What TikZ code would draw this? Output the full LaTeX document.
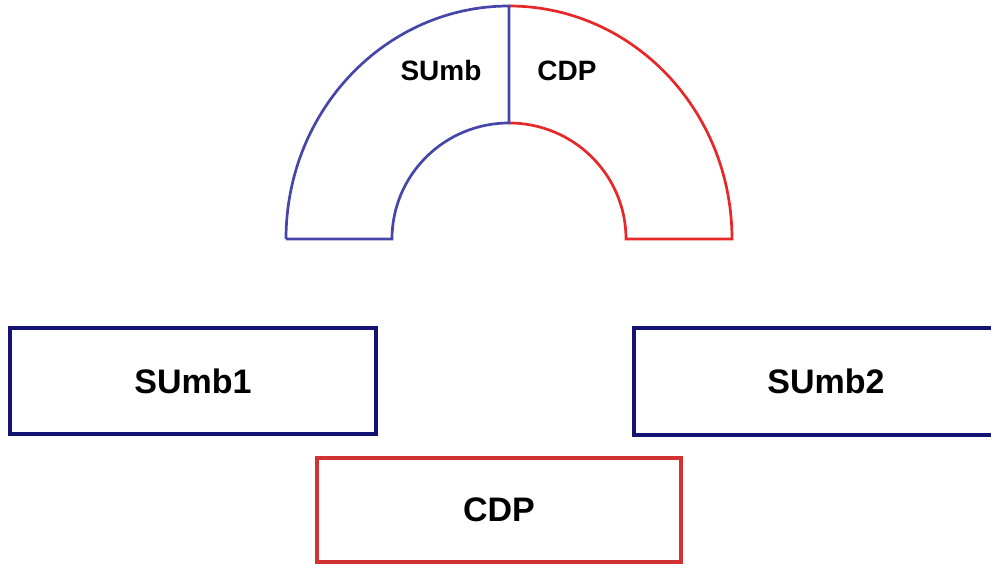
\documentclass[tikz,border=0pt]{standalone}
\usepackage{fontspec}
\setmainfont{Liberation Sans}
\definecolor{navyb}{RGB}{20,20,115}
\definecolor{boxred}{RGB}{210,50,50}
\definecolor{arcblue}{RGB}{70,70,170}
\definecolor{arcred}{RGB}{232,40,40}
\tikzset{
  unitbox/.style={draw=navyb, line width=3.3pt, rectangle, inner sep=0pt, font=\fontsize{34}{40}\selectfont\bfseries},
  cdpbox/.style={draw=boxred, line width=3.3pt, rectangle, inner sep=0pt, font=\fontsize{34}{40}\selectfont\bfseries},
  arclabel/.style={inner sep=0pt, font=\fontsize{28}{32}\selectfont\bfseries},
  bluearc/.style={draw=arcblue, line width=2.7pt, line join=miter},
  redarc/.style={draw=arcred, line width=2.7pt, line join=miter}
}
\begin{document}
\begin{tikzpicture}[x=1pt,y=1pt]
\useasboundingbox (0,0) rectangle (991,569);
\clip (0,0) rectangle (991,569);
% semicircular ring
\draw[redarc] (509,563) arc[start angle=90,end angle=0,x radius=223,y radius=233]
  -- (626,330) arc[start angle=0,end angle=90,x radius=117,y radius=116];
\draw[bluearc] (286,330) -- (392,330)
  arc[start angle=180,end angle=90,x radius=117,y radius=116]
  -- (509,563) arc[start angle=90,end angle=180,x radius=223,y radius=233];
\node[arclabel] (lsumb) at (441,498) {SUmb};
\node[arclabel] (lcdp) at (567,498) {CDP};
% boxes
\node[unitbox, minimum width=366pt, minimum height=106pt] (sumb1) at (193,188) {SUmb1};
\node[unitbox, minimum width=384pt, minimum height=107pt] (sumb2) at (826,187.5) {SUmb2};
\node[cdpbox, minimum width=364pt, minimum height=104pt] (cdp) at (499,59) {CDP};
\end{tikzpicture}
\end{document}
